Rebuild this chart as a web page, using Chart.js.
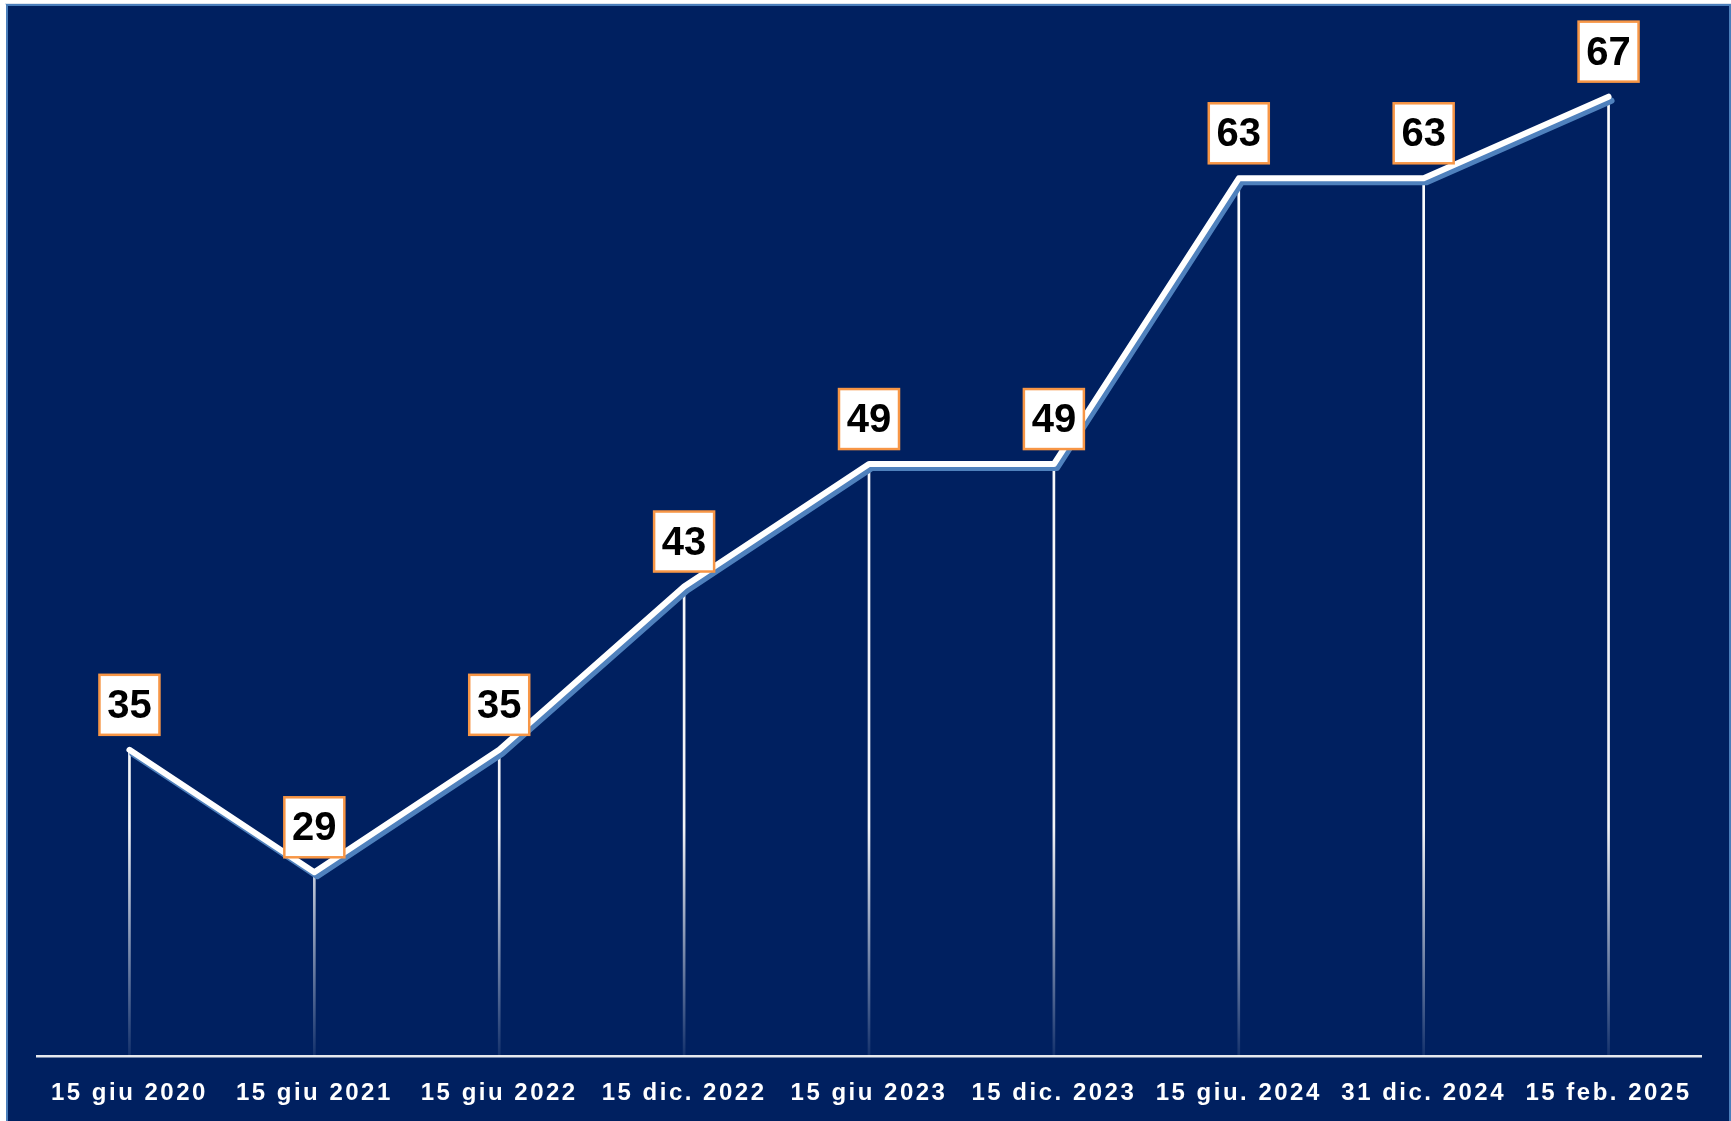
<!DOCTYPE html>
<html>
<head>
<meta charset="utf-8">
<script src="https://cdn.jsdelivr.net/npm/chart.js@4"></script>
<style>
  html, body { margin: 0; padding: 0; background: #ffffff; }
  #wrap { width: 1731px; height: 1121px; }
</style>
</head>
<body>
<div id="wrap"><canvas id="trendChart" width="1731" height="1121"></canvas></div>
<script>
const labels = [
  "15 giu 2020", "15 giu 2021", "15 giu 2022", "15 dic. 2022", "15 giu 2023",
  "15 dic. 2023", "15 giu. 2024", "31 dic. 2024", "15 feb. 2025"
];
const values = [35, 29, 35, 43, 49, 49, 63, 63, 67];

const navy = "#002060";
const lineShadow = "#4F81BD";
const boxBorder = "#F79646";

// frame background behind everything
const framePlugin = {
  id: "frame",
  beforeDraw(chart) {
    const ctx = chart.ctx;
    ctx.save();
    ctx.fillStyle = "#dfe6ef";
    ctx.fillRect(5, 3, chart.width - 5, 2);
    ctx.fillStyle = navy;
    ctx.fillRect(6, 4, chart.width - 6, chart.height - 4);
    ctx.strokeStyle = "#4A7EBB";
    ctx.lineWidth = 2;
    ctx.beginPath();
    ctx.moveTo(7, chart.height);
    ctx.lineTo(7, 5);
    ctx.lineTo(chart.width - 1, 5);
    ctx.lineTo(chart.width - 1, chart.height);
    ctx.stroke();
    ctx.restore();
    // wider spacing for the axis labels
    ctx.letterSpacing = "2.5px";
  }
};

// blue shadow under the white line
const shadowPlugin = {
  id: "lineShadow",
  beforeDatasetDraw(chart, args) {
    if (args.index !== 0) return;
    const ctx = chart.ctx;
    ctx.save();
    ctx.shadowColor = lineShadow;
    ctx.shadowOffsetX = 3;
    ctx.shadowOffsetY = 4;
    ctx.shadowBlur = 0;
  },
  afterDatasetDraw(chart, args) {
    if (args.index !== 0) return;
    chart.ctx.restore();
  }
};

// value boxes above each point
const boxPlugin = {
  id: "valueBoxes",
  afterDatasetsDraw(chart) {
    const ctx = chart.ctx;
    const meta = chart.getDatasetMeta(0);
    ctx.save();
    ctx.letterSpacing = "0px";
    ctx.font = "bold 40px 'Liberation Sans', Arial, sans-serif";
    ctx.textAlign = "center";
    ctx.textBaseline = "middle";
    meta.data.forEach((pt, i) => {
      const cx = pt.x;
      const cy = pt.y - 45;
      const size = 60;
      ctx.fillStyle = "#ffffff";
      ctx.fillRect(cx - size / 2, cy - size / 2, size, size);
      ctx.strokeStyle = boxBorder;
      ctx.lineWidth = 2.5;
      ctx.strokeRect(cx - size / 2, cy - size / 2, size, size);
      ctx.fillStyle = "#000000";
      ctx.fillText(String(values[i]), cx, cy + 2);
    });
    ctx.restore();
  }
};

const ctx = document.getElementById("trendChart").getContext("2d");
const trendChart = new Chart(ctx, {
  type: "line",
  data: {
    labels: labels,
    datasets: [
      {
        type: "line",
        data: values,
        borderColor: "#ffffff",
        borderWidth: 6,
        borderCapStyle: "round",
        borderJoinStyle: "round",
        pointRadius: 0,
        tension: 0,
        order: 0,
      },
      {
        // thin drop lines from each point down to the axis
        type: "bar",
        data: values,
        barThickness: 2,
        order: 1,
        backgroundColor: (context) => {
          const area = context.chart.chartArea;
          if (!area) return "#ffffff";
          const g = context.chart.ctx.createLinearGradient(0, area.top, 0, area.bottom);
          g.addColorStop(0, "rgba(255,255,255,1)");
          g.addColorStop(0.78, "rgba(255,255,255,0.95)");
          g.addColorStop(1, "rgba(255,255,255,0.08)");
          return g;
        },
      },
    ],
  },
  options: {
    responsive: false,
    animation: false,
    layout: {
      padding: { left: 37, right: 30, top: 15, bottom: 0 },
    },
    plugins: {
      legend: { display: false },
      tooltip: { enabled: false },
    },
    scales: {
      x: {
        offset: true,
        afterFit: (scale) => { scale.height = 65; },
        grid: { display: false },
        border: { display: true, color: "#e6e9ef", width: 2.5 },
        ticks: {
          color: "#ffffff",
          autoSkip: false,
          maxRotation: 0,
          padding: 15,
          font: { family: "'Liberation Sans', Arial, sans-serif", size: 24, weight: "bold" },
        },
      },
      y: {
        display: false,
        min: 20,
        max: 71,
      },
    },
  },
  plugins: [framePlugin, shadowPlugin, boxPlugin],
});
</script>
</body>
</html>
